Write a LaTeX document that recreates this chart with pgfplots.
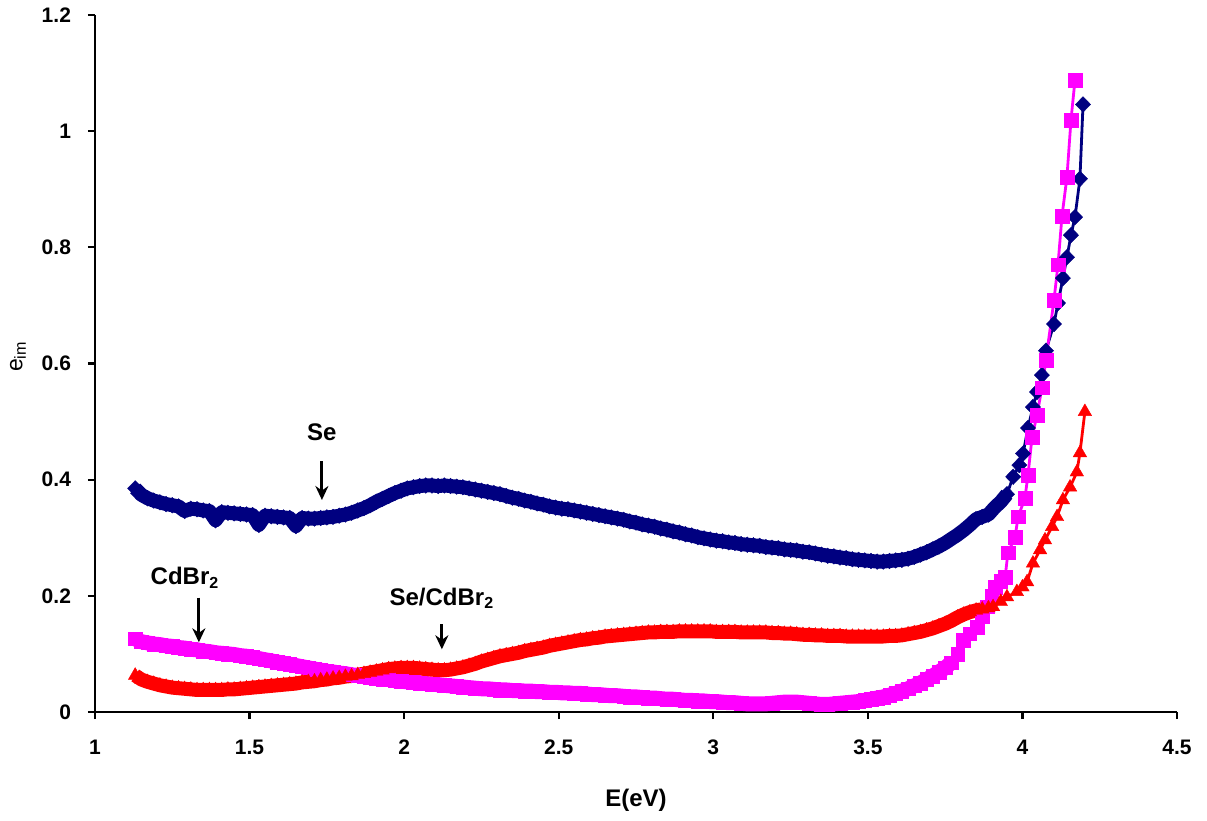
\documentclass[border=0pt]{standalone}
\usepackage{fontspec}
\setmainfont{Liberation Sans}
\usepackage{pgfplots}
\usepackage{pgfplotstable}
\pgfplotsset{compat=1.18}
\usetikzlibrary{arrows.meta}

\definecolor{senavy}{HTML}{000080}
\definecolor{cdmag}{HTML}{FF00FF}
\definecolor{mixred}{HTML}{FF0000}

% Se film
\pgfplotstableread{
x y
1.13 0.385
1.15 0.374
1.17 0.368
1.19 0.364
1.21 0.361
1.23 0.358
1.25 0.356
1.27 0.354
1.29 0.346
1.31 0.350
1.33 0.349
1.35 0.347
1.37 0.346
1.39 0.330
1.41 0.344
1.43 0.343
1.45 0.342
1.47 0.341
1.49 0.340
1.51 0.339
1.53 0.322
1.55 0.338
1.57 0.337
1.59 0.336
1.61 0.335
1.63 0.334
1.65 0.320
1.67 0.334
1.69 0.333
1.71 0.333
1.73 0.334
1.75 0.335
1.77 0.336
1.79 0.338
1.81 0.340
1.83 0.343
1.85 0.347
1.87 0.351
1.89 0.356
1.91 0.362
1.93 0.367
1.95 0.372
1.97 0.377
1.99 0.381
2.01 0.385
2.03 0.387
2.05 0.389
2.07 0.390
2.09 0.390
2.11 0.389
2.13 0.390
2.15 0.389
2.17 0.388
2.19 0.387
2.21 0.385
2.23 0.383
2.25 0.381
2.27 0.379
2.29 0.377
2.31 0.375
2.33 0.372
2.35 0.369
2.37 0.367
2.39 0.364
2.41 0.362
2.43 0.359
2.45 0.357
2.47 0.354
2.49 0.352
2.51 0.350
2.53 0.349
2.55 0.347
2.57 0.345
2.59 0.343
2.61 0.341
2.63 0.339
2.65 0.337
2.67 0.335
2.69 0.333
2.71 0.331
2.73 0.328
2.75 0.326
2.77 0.323
2.79 0.321
2.81 0.319
2.83 0.316
2.85 0.314
2.87 0.311
2.89 0.309
2.91 0.306
2.93 0.304
2.95 0.301
2.97 0.299
2.99 0.297
3.01 0.295
3.03 0.294
3.05 0.292
3.07 0.291
3.09 0.289
3.11 0.288
3.13 0.287
3.15 0.286
3.17 0.284
3.19 0.283
3.21 0.282
3.23 0.280
3.25 0.279
3.27 0.278
3.29 0.276
3.31 0.275
3.33 0.273
3.35 0.271
3.37 0.269
3.39 0.268
3.41 0.266
3.43 0.265
3.45 0.263
3.47 0.262
3.49 0.261
3.51 0.260
3.53 0.259
3.55 0.259
3.57 0.260
3.59 0.261
3.61 0.262
3.63 0.264
3.65 0.267
3.67 0.271
3.69 0.275
3.71 0.280
3.73 0.285
3.75 0.291
3.77 0.298
3.79 0.305
3.81 0.313
3.83 0.322
3.85 0.332
3.87 0.336
3.89 0.340
3.91 0.352
3.93 0.362
3.95 0.375
3.97 0.405
3.99 0.425
4.002 0.445
4.018 0.489
4.034 0.525
4.047 0.551
4.063 0.580
4.076 0.622
4.102 0.668
4.115 0.704
4.131 0.747
4.144 0.783
4.157 0.821
4.170 0.852
4.186 0.918
4.196 1.046
}\seTable

% CdBr2 film
\pgfplotstableread{
x y
1.13 0.126
1.15 0.121
1.17 0.119
1.19 0.117
1.21 0.116
1.23 0.114
1.25 0.113
1.27 0.111
1.29 0.110
1.31 0.108
1.33 0.107
1.35 0.105
1.37 0.104
1.39 0.102
1.41 0.101
1.43 0.100
1.45 0.099
1.47 0.097
1.49 0.096
1.51 0.094
1.53 0.092
1.55 0.090
1.57 0.088
1.59 0.086
1.61 0.084
1.63 0.082
1.65 0.080
1.67 0.078
1.69 0.076
1.71 0.074
1.73 0.072
1.75 0.070
1.77 0.069
1.79 0.067
1.81 0.066
1.83 0.064
1.85 0.063
1.87 0.061
1.89 0.060
1.91 0.058
1.93 0.057
1.95 0.056
1.97 0.054
1.99 0.053
2.01 0.052
2.03 0.051
2.05 0.050
2.07 0.049
2.09 0.048
2.11 0.047
2.13 0.046
2.15 0.045
2.17 0.044
2.19 0.043
2.21 0.042
2.23 0.041
2.25 0.040
2.27 0.040
2.29 0.039
2.31 0.038
2.33 0.038
2.35 0.037
2.37 0.037
2.39 0.036
2.41 0.036
2.43 0.035
2.45 0.035
2.47 0.034
2.49 0.034
2.51 0.033
2.53 0.033
2.55 0.032
2.57 0.032
2.59 0.031
2.61 0.030
2.63 0.030
2.65 0.029
2.67 0.028
2.69 0.028
2.71 0.027
2.73 0.026
2.75 0.026
2.77 0.025
2.79 0.024
2.81 0.024
2.83 0.023
2.85 0.022
2.87 0.022
2.89 0.021
2.91 0.020
2.93 0.020
2.95 0.019
2.97 0.019
2.99 0.018
3.01 0.018
3.03 0.017
3.05 0.016
3.07 0.016
3.09 0.015
3.11 0.014
3.13 0.014
3.15 0.014
3.17 0.014
3.19 0.015
3.21 0.016
3.23 0.017
3.25 0.017
3.27 0.017
3.29 0.016
3.31 0.015
3.33 0.014
3.35 0.013
3.37 0.013
3.39 0.014
3.41 0.015
3.43 0.016
3.45 0.017
3.47 0.018
3.49 0.020
3.51 0.022
3.53 0.024
3.55 0.026
3.57 0.029
3.59 0.032
3.61 0.036
3.63 0.040
3.65 0.045
3.67 0.050
3.69 0.056
3.71 0.062
3.73 0.069
3.75 0.076
3.77 0.085
3.79 0.100
3.808 0.124
3.83 0.135
3.853 0.146
3.87 0.165
3.886 0.181
3.90 0.200
3.911 0.215
3.93 0.225
3.944 0.232
3.953 0.274
3.976 0.301
3.986 0.336
4.008 0.368
4.018 0.408
4.031 0.473
4.047 0.511
4.063 0.558
4.076 0.606
4.102 0.709
4.115 0.770
4.128 0.854
4.144 0.921
4.157 1.019
4.170 1.088
}\cdTable

% Se/CdBr2 film
\pgfplotstableread{
x y
1.13 0.063
1.15 0.056
1.17 0.052
1.19 0.049
1.21 0.046
1.23 0.044
1.25 0.042
1.27 0.041
1.29 0.040
1.31 0.039
1.33 0.038
1.35 0.038
1.37 0.038
1.39 0.038
1.41 0.038
1.43 0.039
1.45 0.039
1.47 0.040
1.49 0.041
1.51 0.042
1.53 0.043
1.55 0.044
1.57 0.045
1.59 0.046
1.61 0.047
1.63 0.048
1.65 0.049
1.67 0.051
1.69 0.052
1.71 0.053
1.73 0.055
1.75 0.056
1.77 0.058
1.79 0.059
1.81 0.061
1.83 0.062
1.85 0.064
1.87 0.066
1.89 0.068
1.91 0.070
1.93 0.072
1.95 0.074
1.97 0.075
1.99 0.076
2.01 0.076
2.03 0.076
2.05 0.075
2.07 0.074
2.09 0.073
2.11 0.072
2.13 0.072
2.15 0.073
2.17 0.075
2.19 0.077
2.21 0.080
2.23 0.083
2.25 0.087
2.27 0.090
2.29 0.093
2.31 0.096
2.33 0.098
2.35 0.100
2.37 0.102
2.39 0.105
2.41 0.107
2.43 0.109
2.45 0.111
2.47 0.114
2.49 0.116
2.51 0.118
2.53 0.120
2.55 0.122
2.57 0.124
2.59 0.125
2.61 0.127
2.63 0.128
2.65 0.130
2.67 0.131
2.69 0.132
2.71 0.133
2.73 0.134
2.75 0.135
2.77 0.136
2.79 0.137
2.81 0.137
2.83 0.138
2.85 0.138
2.87 0.138
2.89 0.139
2.91 0.139
2.93 0.139
2.95 0.139
2.97 0.139
2.99 0.139
3.01 0.138
3.03 0.138
3.05 0.138
3.07 0.138
3.09 0.137
3.11 0.137
3.13 0.137
3.15 0.137
3.17 0.137
3.19 0.136
3.21 0.136
3.23 0.135
3.25 0.135
3.27 0.134
3.29 0.133
3.31 0.133
3.33 0.132
3.35 0.132
3.37 0.131
3.39 0.131
3.41 0.131
3.43 0.130
3.45 0.130
3.47 0.130
3.49 0.130
3.51 0.130
3.53 0.130
3.55 0.130
3.57 0.131
3.59 0.131
3.61 0.132
3.63 0.134
3.65 0.136
3.67 0.138
3.69 0.141
3.71 0.144
3.73 0.148
3.75 0.152
3.77 0.157
3.79 0.163
3.81 0.168
3.83 0.172
3.85 0.175
3.87 0.177
3.89 0.179
3.905 0.181
3.93 0.190
3.95 0.198
3.982 0.207
4.000 0.215
4.015 0.224
4.034 0.256
4.057 0.279
4.073 0.296
4.096 0.319
4.112 0.336
4.131 0.365
4.154 0.387
4.176 0.413
4.186 0.446
4.202 0.517
}\mixTable

\begin{document}
\begin{tikzpicture}
\begin{axis}[
  name=ax,
  scale only axis,
  width=541pt, height=348.5pt,
  xmin=1, xmax=4.5, ymin=0, ymax=1.2,
  xtick={1,1.5,...,4.5},
  ytick={0,0.2,...,1.2},
  axis x line=bottom, axis y line=left,
  axis line style={-, line width=1.1pt},
  every tick/.style={black, line width=1.1pt},
  major tick length=3.5pt,
  tick align=outside,
  minor tick num=0,
  /pgf/number format/assume math mode=true,
  tick label style={font=\fontsize{10.5pt}{12pt}\selectfont\bfseries},
  xticklabel style={yshift=-7pt},
  yticklabel style={xshift=-5pt},
  xlabel={E(eV)},
  xlabel style={font=\fontsize{12pt}{14pt}\selectfont\bfseries,
    at={(rel axis cs:0.5,-0.126)}, anchor=center},
  ylabel={e\textsubscript{im}},
  ylabel style={font=\fontsize{11.5pt}{14pt}\selectfont,
    at={(rel axis cs:-0.0712,0.51)}, anchor=center},
  clip=false,
]
% Se: dense part drawn as a thick band, then the marked series
\addplot[senavy, line width=7pt, no markers, line join=round,
  restrict x to domain=1.12:3.96] table[x=x,y=y] {\seTable};
\addplot[senavy, line width=1.4pt, mark=diamond*, mark size=3.9pt,
  mark options={solid, line width=0.2pt, fill=senavy, xscale=1.3}] table[x=x,y=y] {\seTable};
% CdBr2
\addplot[cdmag, line width=7.5pt, no markers, line join=round,
  restrict x to domain=1.12:3.78] table[x=x,y=y] {\cdTable};
\addplot[cdmag, line width=1.4pt, mark=square*, mark size=3.4pt,
  mark options={solid, line width=0.2pt, fill=cdmag}] table[x=x,y=y] {\cdTable};
% Se/CdBr2
\addplot[mixred, line width=7pt, no markers, line join=round,
  restrict x to domain=1.12:3.9] table[x=x,y=y] {\mixTable};
\addplot[mixred, line width=1.4pt, mark=triangle*, mark size=3.9pt,
  mark options={solid, line width=0.2pt, fill=mixred}] table[x=x,y=y] {\mixTable};

\node[font=\fontsize{12pt}{14pt}\selectfont\bfseries] at (axis cs:1.734,0.482) {Se};
\draw[-{Stealth[length=7pt,width=6.5pt]}, line width=1.5pt] (axis cs:1.734,0.432) -- (axis cs:1.734,0.365);
\node[font=\fontsize{12pt}{14pt}\selectfont\bfseries] at (axis cs:1.291,0.231) {CdBr\textsubscript{2}};
\draw[-{Stealth[length=7pt,width=6.5pt]}, line width=1.5pt] (axis cs:1.336,0.197) -- (axis cs:1.336,0.120);
\node[font=\fontsize{12pt}{14pt}\selectfont\bfseries] at (axis cs:2.122,0.196) {Se/CdBr\textsubscript{2}};
\draw[-{Stealth[length=7pt,width=6.5pt]}, line width=1.5pt] (axis cs:2.122,0.151) -- (axis cs:2.122,0.108);
\end{axis}
\pgfresetboundingbox
\path[use as bounding box] ([shift={(-47.5pt,-54pt)}]ax.south west) rectangle ([shift={(15pt,7.5pt)}]ax.north east);
\end{tikzpicture}
\end{document}
